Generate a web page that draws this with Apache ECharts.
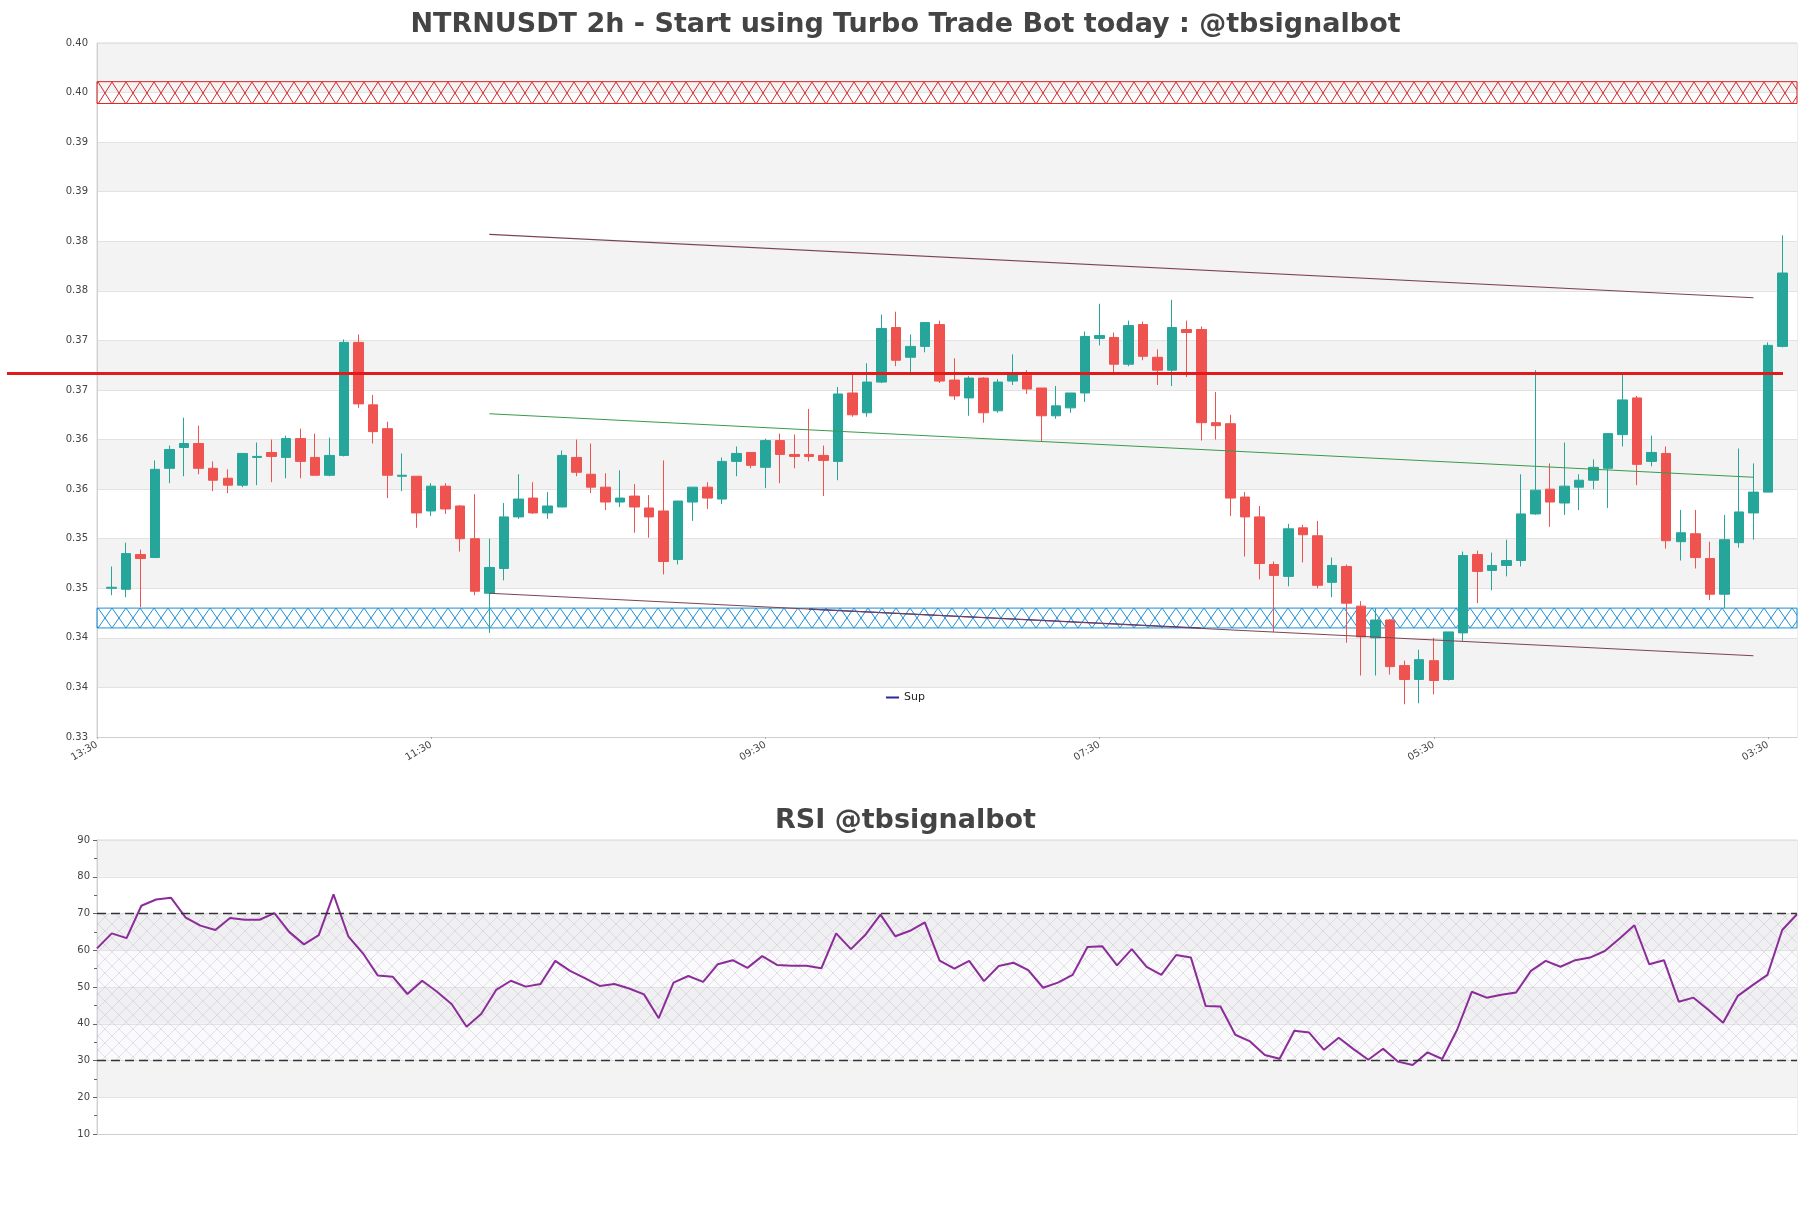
<!DOCTYPE html>
<html>
<head>
<meta charset="utf-8">
<title>NTRNUSDT 2h</title>
<script src="https://cdn.jsdelivr.net/npm/echarts@6.0.0/dist/echarts.min.js"></script>
<style>
  html, body { margin: 0; padding: 0; background: #fff; }
  #chart { width: 1811px; height: 1208px; }
</style>
</head>
<body>
<div id="chart"></div>
<script>
// 2h slots starting 13:30; slot 0 and the last slot have no candle
const startHour = 13.5;
const slotCount = 118;
const candleOffset = 1;
const labelEvery = 23;

// [open, close, low, high]
const candles = [
  [0.3450, 0.3451, 0.3443, 0.3472], [0.3449, 0.3485, 0.3441, 0.3496], [0.3484, 0.3480, 0.3431, 0.3489],
  [0.3481, 0.3570, 0.3481, 0.3579], [0.3571, 0.3590, 0.3556, 0.3594], [0.3592, 0.3596, 0.3563, 0.3622],
  [0.3596, 0.3571, 0.3565, 0.3614], [0.3571, 0.3559, 0.3548, 0.3578], [0.3561, 0.3554, 0.3546, 0.3570],
  [0.3554, 0.3586, 0.3552, 0.3586], [0.3582, 0.3583, 0.3554, 0.3597], [0.3587, 0.3583, 0.3557, 0.3600],
  [0.3582, 0.3601, 0.3561, 0.3604], [0.3601, 0.3578, 0.3561, 0.3611], [0.3582, 0.3564, 0.3564, 0.3606],
  [0.3564, 0.3584, 0.3563, 0.3602], [0.3584, 0.3698, 0.3583, 0.3701], [0.3698, 0.3636, 0.3632, 0.3706],
  [0.3635, 0.3608, 0.3596, 0.3645], [0.3611, 0.3564, 0.3541, 0.3618], [0.3563, 0.3564, 0.3548, 0.3586],
  [0.3563, 0.3526, 0.3511, 0.3563], [0.3528, 0.3553, 0.3523, 0.3556], [0.3553, 0.3530, 0.3525, 0.3556],
  [0.3533, 0.3500, 0.3487, 0.3534], [0.3500, 0.3447, 0.3443, 0.3545], [0.3445, 0.3471, 0.3405, 0.3500],
  [0.3470, 0.3522, 0.3458, 0.3536], [0.3522, 0.3540, 0.3520, 0.3565], [0.3541, 0.3526, 0.3525, 0.3557],
  [0.3526, 0.3533, 0.3520, 0.3547], [0.3532, 0.3584, 0.3532, 0.3589], [0.3582, 0.3567, 0.3563, 0.3600],
  [0.3565, 0.3552, 0.3546, 0.3596], [0.3552, 0.3537, 0.3529, 0.3566], [0.3537, 0.3541, 0.3532, 0.3569],
  [0.3543, 0.3532, 0.3506, 0.3555], [0.3531, 0.3522, 0.3501, 0.3544], [0.3528, 0.3477, 0.3464, 0.3579],
  [0.3479, 0.3538, 0.3474, 0.3538], [0.3537, 0.3552, 0.3518, 0.3552], [0.3552, 0.3541, 0.3530, 0.3557],
  [0.3540, 0.3578, 0.3535, 0.3582], [0.3578, 0.3586, 0.3563, 0.3593], [0.3587, 0.3574, 0.3571, 0.3587],
  [0.3572, 0.3599, 0.3551, 0.3601], [0.3599, 0.3585, 0.3556, 0.3606], [0.3585, 0.3583, 0.3571, 0.3605],
  [0.3585, 0.3583, 0.3578, 0.3631], [0.3584, 0.3579, 0.3543, 0.3594], [0.3578, 0.3646, 0.3559, 0.3653],
  [0.3647, 0.3625, 0.3623, 0.3667], [0.3627, 0.3658, 0.3623, 0.3677], [0.3658, 0.3712, 0.3657, 0.3726],
  [0.3713, 0.3680, 0.3674, 0.3729], [0.3683, 0.3694, 0.3665, 0.3706], [0.3694, 0.3718, 0.3688, 0.3718],
  [0.3716, 0.3659, 0.3657, 0.3720], [0.3660, 0.3644, 0.3640, 0.3682], [0.3642, 0.3662, 0.3624, 0.3664],
  [0.3662, 0.3627, 0.3617, 0.3663], [0.3629, 0.3658, 0.3627, 0.3661], [0.3659, 0.3666, 0.3655, 0.3686],
  [0.3665, 0.3651, 0.3646, 0.3670], [0.3652, 0.3624, 0.3598, 0.3652], [0.3624, 0.3634, 0.3621, 0.3654],
  [0.3632, 0.3647, 0.3627, 0.3647], [0.3647, 0.3704, 0.3638, 0.3709], [0.3702, 0.3705, 0.3695, 0.3737],
  [0.3703, 0.3676, 0.3665, 0.3708], [0.3676, 0.3715, 0.3674, 0.3720], [0.3716, 0.3684, 0.3680, 0.3719],
  [0.3683, 0.3670, 0.3655, 0.3691], [0.3670, 0.3713, 0.3654, 0.3741], [0.3711, 0.3708, 0.3663, 0.3720],
  [0.3711, 0.3617, 0.3599, 0.3714], [0.3617, 0.3614, 0.3600, 0.3648], [0.3616, 0.3541, 0.3523, 0.3625],
  [0.3542, 0.3522, 0.3482, 0.3547], [0.3522, 0.3475, 0.3459, 0.3533], [0.3474, 0.3463, 0.3406, 0.3477],
  [0.3462, 0.3510, 0.3452, 0.3515], [0.3511, 0.3504, 0.3476, 0.3514], [0.3503, 0.3453, 0.3450, 0.3518],
  [0.3456, 0.3473, 0.3441, 0.3481], [0.3472, 0.3435, 0.3395, 0.3474], [0.3432, 0.3401, 0.3362, 0.3437],
  [0.3400, 0.3418, 0.3362, 0.3430], [0.3418, 0.3371, 0.3363, 0.3419], [0.3372, 0.3358, 0.3333, 0.3377],
  [0.3358, 0.3378, 0.3334, 0.3388], [0.3377, 0.3357, 0.3343, 0.3400], [0.3358, 0.3406, 0.3357, 0.3406],
  [0.3405, 0.3483, 0.3397, 0.3487], [0.3484, 0.3467, 0.3435, 0.3488], [0.3468, 0.3473, 0.3448, 0.3486],
  [0.3473, 0.3478, 0.3462, 0.3499], [0.3478, 0.3525, 0.3472, 0.3565], [0.3525, 0.3549, 0.3524, 0.3670],
  [0.3550, 0.3537, 0.3512, 0.3576], [0.3536, 0.3553, 0.3524, 0.3597], [0.3552, 0.3559, 0.3529, 0.3565],
  [0.3559, 0.3572, 0.3550, 0.3580], [0.3571, 0.3606, 0.3531, 0.3606], [0.3605, 0.3640, 0.3593, 0.3666],
  [0.3642, 0.3575, 0.3554, 0.3644], [0.3578, 0.3587, 0.3573, 0.3604], [0.3586, 0.3498, 0.3490, 0.3593],
  [0.3497, 0.3506, 0.3478, 0.3529], [0.3505, 0.3481, 0.3470, 0.3529], [0.3480, 0.3444, 0.3438, 0.3497],
  [0.3444, 0.3499, 0.3430, 0.3524], [0.3496, 0.3527, 0.3491, 0.3591], [0.3526, 0.3547, 0.3499, 0.3576],
  [0.3547, 0.3695, 0.3547, 0.3698], [0.3694, 0.3768, 0.3693, 0.3806]
];

const rsiValues = [
  60.5, 64.6, 63.3, 72.1, 73.8, 74.3, 68.9, 66.7, 65.5, 68.8, 68.3, 68.3, 70.1, 65.0, 61.6, 64.1,
  75.2, 63.8, 59.1, 53.1, 52.8, 48.1, 51.7, 48.7, 45.3, 39.2, 42.7, 49.2, 51.7, 50.1, 50.8, 57.1,
  54.4, 52.4, 50.3, 50.8, 49.6, 48.0, 41.5, 51.2, 53.0, 51.4, 56.2, 57.3, 55.2, 58.4, 56.0, 55.8,
  55.8, 55.1, 64.6, 60.3, 64.3, 69.7, 63.8, 65.3, 67.6, 57.2, 55.0, 57.1, 51.6, 55.7, 56.6, 54.6,
  49.8, 51.2, 53.3, 60.9, 61.1, 55.9, 60.3, 55.5, 53.3, 58.7, 58.0, 44.8, 44.7, 37.0, 35.2, 31.5,
  30.5, 38.1, 37.6, 32.9, 36.2, 33.1, 30.2, 33.2, 29.7, 28.8, 32.2, 30.4, 38.3, 48.7, 47.1, 47.9,
  48.5, 54.4, 57.1, 55.5, 57.3, 58.0, 59.8, 63.2, 66.8, 56.2, 57.3, 46.0, 47.1, 43.8, 40.3, 47.6,
  50.5, 53.3, 65.5, 69.8
];

// price levels
const keyLevel = 0.3667;
const resistanceZone = [0.3939, 0.3961];
const supportZone = [0.3410, 0.3430];

// trend lines as [slot, price]
const upperTrend = [[27, 0.3807], [114, 0.3743]];
const middleTrend = [[27, 0.3626], [114, 0.3562]];
const lowerTrend = [[27, 0.3445], [114, 0.3382]];
const supLine = [[49, 0.3429], [76, 0.3410]];

const rsiLevels = [30, 70];

const timeLabels = [];
for (let i = 0; i < slotCount; i++) {
  const m = ((startHour + 2 * i) % 24) * 60;
  timeLabels.push(String(Math.floor(m / 60)).padStart(2, '0') + ':' + String(m % 60).padStart(2, '0'));
}
const candleData = timeLabels.map((t, i) => candles[i - candleOffset] || ['-', '-', '-', '-']);
const rsiSlots = rsiValues.map((v, i) => i);

const UP = '#26a69a';
const DOWN = '#ef5350';
const FONT = 'DejaVu Sans';

function crossHatch(stroke, w, h, bg) {
  const c = document.createElement('canvas');
  c.width = w;
  c.height = h;
  const ctx = c.getContext('2d');
  if (bg) {
    ctx.fillStyle = bg;
    ctx.fillRect(0, 0, w, h);
  }
  ctx.strokeStyle = stroke;
  ctx.lineWidth = 1;
  ctx.beginPath();
  ctx.moveTo(0, 0);
  ctx.lineTo(w, h);
  ctx.moveTo(0, h);
  ctx.lineTo(w, 0);
  ctx.stroke();
  return c;
}

function priceLabel(v) {
  return (Math.round(v * 100 + 1e-6) / 100).toFixed(2);
}

function trendSeries(name, data, color, z) {
  return {
    name: name,
    type: 'line',
    xAxisIndex: 0,
    yAxisIndex: 0,
    data: data,
    symbol: 'none',
    silent: true,
    z: z,
    lineStyle: { color: color, width: 1.1 },
    itemStyle: { color: color }
  };
}

function buildOption(fills) {
  fills = fills || {};
  return {
    animation: false,
    backgroundColor: '#ffffff',
    textStyle: { fontFamily: FONT },
    title: [
      {
        text: 'NTRNUSDT 2h - Start using Turbo Trade Bot today : @tbsignalbot',
        left: 'center',
        top: 6,
        textStyle: { fontSize: 27, fontWeight: 'bold', color: '#444444', fontFamily: FONT }
      },
      {
        text: 'RSI @tbsignalbot',
        left: 'center',
        top: 802,
        textStyle: { fontSize: 27, fontWeight: 'bold', color: '#444444', fontFamily: FONT }
      }
    ],
    legend: {
      data: ['Sup'],
      left: 'center',
      top: 688,
      icon: 'rect',
      itemWidth: 13,
      itemHeight: 2,
      padding: [4, 10],
      backgroundColor: 'rgba(255,255,255,0.85)',
      textStyle: { fontSize: 11, color: '#222', fontFamily: FONT }
    },
    grid: [
      { left: 97, right: 14, top: 43, height: 694, show: true, borderColor: '#d9d9d9', borderWidth: 1 },
      { left: 97, right: 14, top: 840, height: 294, show: true, borderColor: '#d9d9d9', borderWidth: 1 }
    ],
    xAxis: [
      {
        type: 'category',
        gridIndex: 0,
        data: timeLabels,
        boundaryGap: false,
        axisLine: { lineStyle: { color: '#cfcfcf' } },
        axisTick: { show: true, interval: labelEvery - 1, length: 2, lineStyle: { color: '#aaa' } },
        axisLabel: {
          interval: labelEvery - 1, rotate: 30, fontSize: 10, color: '#444', margin: 7, fontFamily: FONT
        },
        splitLine: { show: false }
      },
      {
        type: 'category',
        gridIndex: 1,
        data: rsiSlots,
        boundaryGap: false,
        axisLine: { lineStyle: { color: '#cfcfcf' } },
        axisTick: { show: false },
        axisLabel: { show: false },
        splitLine: { show: false }
      }
    ],
    yAxis: [
      {
        type: 'value',
        gridIndex: 0,
        min: 0.33,
        max: 0.40,
        interval: 0.005,
        axisLine: { show: true, lineStyle: { color: '#cfcfcf' } },
        axisTick: { show: false },
        axisLabel: { fontSize: 10, color: '#444', margin: 9, formatter: priceLabel, fontFamily: FONT },
        splitLine: { lineStyle: { color: '#e2e2e2' } },
        splitArea: { show: true, areaStyle: { color: ['#ffffff', '#f3f3f3'] } }
      },
      {
        type: 'value',
        gridIndex: 1,
        min: 10,
        max: 90,
        interval: 10,
        axisLine: { show: true, lineStyle: { color: '#cfcfcf' } },
        axisTick: { show: true, length: 4, lineStyle: { color: '#666' } },
        minorTick: { show: true, splitNumber: 2, length: 3, lineStyle: { color: '#666' } },
        axisLabel: { fontSize: 10, color: '#444', margin: 7, fontFamily: FONT },
        splitLine: { lineStyle: { color: '#e2e2e2' } },
        splitArea: { show: true, areaStyle: { color: ['#ffffff', '#f3f3f3'] } }
      }
    ],
    series: [
      {
        name: 'Price',
        type: 'candlestick',
        xAxisIndex: 0,
        yAxisIndex: 0,
        data: candleData,
        barWidth: 10,
        itemStyle: { color: UP, color0: DOWN, borderColor: UP, borderColor0: DOWN, borderWidth: 1 },
        markArea: {
          silent: true,
          data: [
            [
              { yAxis: resistanceZone[0], itemStyle: { color: fills.res || 'transparent', borderColor: '#d62728', borderWidth: 1 } },
              { yAxis: resistanceZone[1] }
            ],
            [
              { yAxis: supportZone[0], itemStyle: { color: fills.sup || 'transparent', borderColor: '#1f8fd0', borderWidth: 1 } },
              { yAxis: supportZone[1] }
            ]
          ]
        },
        markLine: {
          silent: true,
          symbol: 'none',
          z: 6,
          label: { show: false },
          lineStyle: { color: '#e31a1c', width: 3, type: 'solid' },
          data: [[{ x: 7, yAxis: keyLevel }, { x: 1783, yAxis: keyLevel }]]
        }
      },
      trendSeries('Upper', upperTrend, '#7d4355', 3),
      trendSeries('Trend', middleTrend, '#3a9a4c', 3),
      trendSeries('Sup', supLine, '#2a2a9a', 2),
      trendSeries('Lower', lowerTrend, '#7d4355', 3),
      {
        name: 'RSI',
        type: 'line',
        xAxisIndex: 1,
        yAxisIndex: 1,
        data: rsiValues,
        symbol: 'none',
        silent: true,
        lineStyle: { color: '#8b2d98', width: 2 },
        itemStyle: { color: '#8b2d98' },
        markArea: {
          silent: true,
          data: [[
            { yAxis: rsiLevels[0], itemStyle: { color: fills.rsi || 'rgba(230,225,238,0.3)' } },
            { yAxis: rsiLevels[1] }
          ]]
        },
        markLine: {
          silent: true,
          symbol: 'none',
          label: { show: false },
          lineStyle: { color: '#333', width: 1.3, type: [9, 5] },
          data: rsiLevels.map(v => ({ yAxis: v }))
        }
      }
    ]
  };
}

const chart = echarts.init(document.getElementById('chart'));
chart.setOption(buildOption());

// hatch tiles are sized to the zone's pixel height, so read it back from the axis
function zoneFill(zone, color) {
  const top = chart.convertToPixel({ yAxisIndex: 0 }, zone[1]);
  const bottom = chart.convertToPixel({ yAxisIndex: 0 }, zone[0]);
  const h = Math.max(2, Math.round(bottom - top));
  return { image: crossHatch(color, 14, h), repeat: 'repeat', x: 0, y: Math.round(top) };
}

chart.setOption(buildOption({
  res: zoneFill(resistanceZone, '#d62728'),
  sup: zoneFill(supportZone, '#1f8fd0'),
  rsi: { image: crossHatch('rgba(180,176,192,0.35)', 14, 14, 'rgba(232,228,240,0.22)'), repeat: 'repeat' }
}), true);
</script>
</body>
</html>
